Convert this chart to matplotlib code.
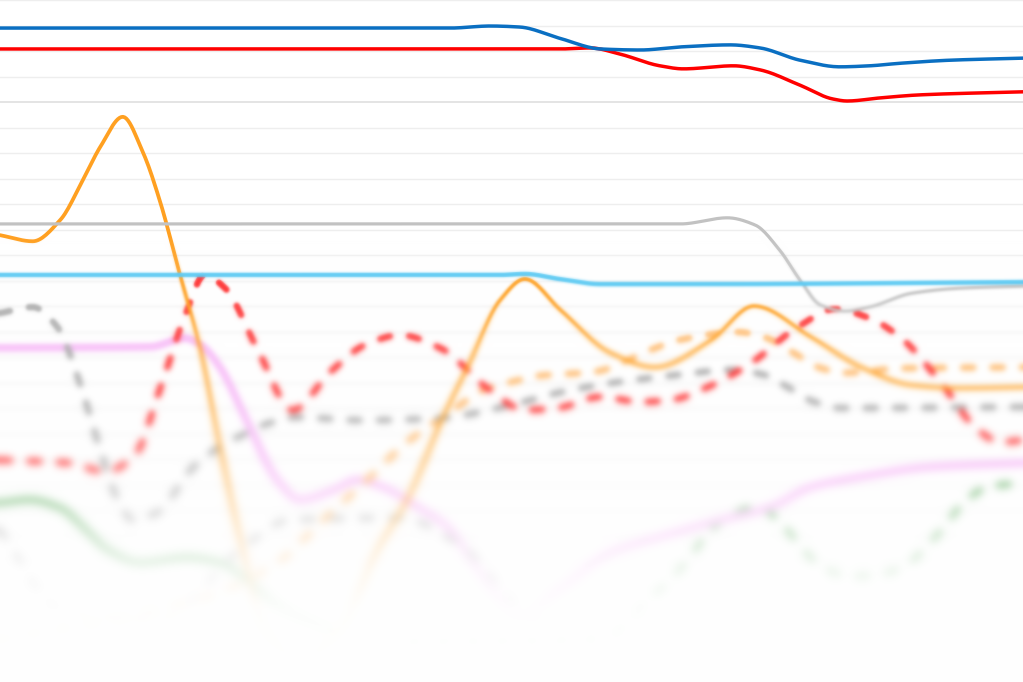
import numpy as np
import matplotlib
matplotlib.use("Agg")
import matplotlib.pyplot as plt

# values: x runs 0..100, y uses the grid scale (step 5, bold line at 100)
blue_x = [0, 44.0, 47.9, 50.8, 54.7, 58.7, 62.6, 66.5, 71.4, 74.3, 78.2, 82.1, 85.0, 88.0, 92.9, 100]
blue_y = [114.5, 114.5, 114.9, 114.7, 112.5, 110.4, 110.2, 110.8, 111.2, 110.6, 108.2, 106.9, 107.1, 107.6, 108.2, 108.6]

red_x = [0, 54.7, 57.7, 60.6, 64.5, 66.8, 71.7, 74.3, 78.2, 81.4, 82.8, 86.0, 89.9, 100]
red_y = [110.4, 110.4, 110.6, 109.4, 107.1, 106.5, 107.1, 106.3, 103.3, 100.6, 100.2, 100.8, 101.4, 102.0]

gray_x = [0, 66.5, 71.1, 73.8, 76.2, 78.2, 80.2, 82.6, 85.0, 89.1, 93.8, 100]
gray_y = [76.1, 76.1, 77.3, 75.9, 71.0, 65.1, 60.2, 59.0, 59.8, 62.5, 63.5, 63.9]

sky_x = [0, 48.9, 51.3, 54.7, 58.7, 68.4, 100]
sky_y = [66.1, 66.1, 66.3, 65.3, 64.3, 64.3, 64.7]

orange_x = [0, 3.2, 5.9, 8.1, 9.8, 12.0, 14.0, 15.6, 17.6, 19.6, 21.5, 23.5, 25.9, 29.3,
            33.2, 36.9, 39.8, 43.3, 45.7, 48.9, 51.3, 54.8, 59.7, 64.0, 69.5, 73.7, 79.3,
            84.2, 89.1, 93.8, 100]
orange_y = [73.9, 72.7, 76.9, 84.7, 91.2, 97.1, 90.0, 80.8, 66.1, 51.4, 32.4, 14.1, -3.5, -9.4,
            -3.5, 12.2, 22.0, 38.2, 48.0, 61.2, 65.3, 59.2, 50.8, 48.0, 53.3, 60.0, 53.9,
            48.0, 44.5, 43.9, 44.1]

orange_d_x = [0, 19.6, 27.1, 31.6, 35.9, 39.8, 44.3, 47.2, 50.0, 52.6, 58.1, 63.6, 66.3,
              72.1, 74.7, 77.6, 80.0, 82.5, 88.1, 100]
orange_d_y = [-5.5, 2.4, 9.6, 18.0, 25.9, 33.3, 39.6, 43.5, 45.1, 46.3, 47.1, 51.4, 53.3,
              54.9, 53.9, 50.8, 48.0, 46.9, 47.8, 48.0]

red_d_x = [0, 6.8, 10.3, 13.2, 15.6, 18.1, 20.0, 22.0, 25.2, 28.6, 32.3, 35.7, 39.1, 43.0,
           47.9, 51.3, 54.5, 58.7, 62.6, 65.6, 69.4, 73.4, 78.0, 81.6, 85.0, 88.1, 92.0,
           95.6, 97.8, 100]
red_d_y = [29.8, 29.2, 27.5, 30.8, 43.5, 58.2, 66.1, 63.5, 51.4, 39.6, 47.1, 52.4, 54.3, 51.8,
           43.5, 39.6, 40.0, 42.2, 41.2, 41.6, 44.3, 48.8, 55.9, 59.4, 57.6, 53.7, 44.9,
           35.7, 33.3, 33.7]

gray_d_x = [0, 3.2, 5.6, 7.8, 9.5, 11.4, 13.0, 15.3, 18.9, 21.5, 24.1, 26.4, 29.0, 35.2,
            43.0, 49.2, 54.8, 60.4, 66.3, 71.5, 74.7, 77.0, 79.6, 82.2, 100]
gray_d_y = [58.6, 59.8, 55.9, 44.9, 33.7, 22.5, 18.0, 19.4, 28.4, 32.4, 35.1, 37.1, 38.2, 37.6,
            38.0, 40.2, 43.1, 45.1, 46.5, 47.5, 46.5, 44.1, 41.2, 40.0, 40.2]

gray_d2_x = [0, 5.9, 15.6, 23.5, 28.3, 39.1, 45.0, 52.8, 100]
gray_d2_y = [16.1, 0.4, -1.6, 12.2, 18.0, 18.4, 13.1, -1.6, -5.5]

pink_x = [0, 14.7, 18.1, 19.6, 21.5, 24.1, 27.1, 29.3, 32.6, 34.9, 37.4, 40.8, 43.7, 47.2,
          50.8, 54.8, 59.7, 64.6, 69.5, 75.4, 79.3, 84.2, 90.7, 100]
pink_y = [51.8, 52.0, 53.7, 52.4, 48.0, 37.6, 25.9, 22.0, 23.9, 25.9, 24.5, 20.6, 16.7, 7.0,
          -1.0, 4.5, 11.6, 14.7, 17.5, 20.6, 24.5, 26.5, 28.4, 29.2]

green_x = [0, 2.9, 5.9, 8.1, 10.5, 13.7, 18.3, 21.5, 24.1, 26.9, 32.3]
green_y = [21.4, 22.0, 20.4, 16.7, 12.2, 9.6, 10.6, 9.6, 6.3, 1.4, -3.5]

green_d_x = [40.0, 58.7, 63.5, 67.3, 69.2, 71.5, 74.1, 76.3, 78.3, 80.3, 83.2, 85.8, 88.4,
             90.3, 92.3, 94.2, 96.6, 100]
green_d_y = [-6.0, -5.5, 2.4, 10.2, 15.5, 19.0, 20.6, 17.5, 12.7, 8.8, 6.9, 7.3, 8.8,
             12.2, 16.7, 21.4, 24.5, 25.3]


def smooth(x, y, n=600):
    # monotone cubic through the read points
    x = np.asarray(x, float)
    y = np.asarray(y, float)
    h = np.diff(x)
    d = np.diff(y) / h
    m = np.zeros_like(y)
    m[0], m[-1] = d[0], d[-1]
    for k in range(1, len(y) - 1):
        if d[k - 1] * d[k] > 0:
            w1 = 2 * h[k] + h[k - 1]
            w2 = h[k] + 2 * h[k - 1]
            m[k] = (w1 + w2) / (w1 / d[k - 1] + w2 / d[k])
    xs = np.linspace(x[0], x[-1], n)
    i = np.clip(np.searchsorted(x, xs, side="right") - 1, 0, len(x) - 2)
    t = (xs - x[i]) / h[i]
    h00 = 2 * t**3 - 3 * t**2 + 1
    h10 = t**3 - 2 * t**2 + t
    h01 = -2 * t**3 + 3 * t**2
    h11 = t**3 - t**2
    ys = h00 * y[i] + h10 * h[i] * m[i] + h01 * y[i + 1] + h11 * h[i] * m[i + 1]
    return xs, ys


def blur(img, sigma):
    if sigma <= 0:
        return img
    r = int(3 * sigma + 1)
    k = np.exp(-0.5 * (np.arange(-r, r + 1) / sigma) ** 2)
    k /= k.sum()
    H, W = img.shape[:2]
    p = np.pad(img, ((r, r), (0, 0), (0, 0)), mode="edge")
    out = sum(k[j] * p[j:j + H] for j in range(2 * r + 1))
    p = np.pad(out, ((0, 0), (r, r), (0, 0)), mode="edge")
    return sum(k[j] * p[:, j:j + W] for j in range(2 * r + 1))


fig = plt.figure(figsize=(10.23, 6.82), dpi=100)
ax = fig.add_axes([0, 0, 1, 1])
ax.set_xlim(0, 100)
ax.set_ylim(-13.7, 120)
ax.axis("off")

for g in np.arange(-10, 121, 5):
    if g == 100:
        ax.axhline(g, color="#dcdcdc", lw=1.1, zorder=0)
    else:
        ax.axhline(g, color="#eeeeee", lw=1.0, zorder=0)

dash = (1.6, 3.0)
series = [
    (green_x, green_y, "#86c286", 5.5, None),
    (green_d_x, green_d_y, "#74b874", 4.6, dash),
    (pink_x, pink_y, "#f8c0f8", 5.5, None),
    (gray_d2_x, gray_d2_y, "#c0c0c0", 4.6, dash),
    (orange_d_x, orange_d_y, "#ffc07a", 4.6, dash),
    (gray_d_x, gray_d_y, "#b0b0b0", 4.6, dash),
    (red_d_x, red_d_y, "#ff3c3c", 4.6, dash),
    (orange_x, orange_y, "#ffa021", 2.7, None),
    (gray_x, gray_y, "#c2c2c2", 2.3, None),
    (sky_x, sky_y, "#5ccaf3", 3.2, None),
    (red_x, red_y, "#ff0000", 2.5, None),
    (blue_x, blue_y, "#0a6fc2", 2.5, None),
]
for xs, ys, col, lw, ds in series:
    sx, sy = smooth(xs, ys)
    line, = ax.plot(sx, sy, color=col, lw=lw, solid_capstyle="round",
                    dash_capstyle="round")
    if ds is not None:
        line.set_dashes(ds)

fig.canvas.draw()
img = np.asarray(fig.canvas.buffer_rgba())[..., :3].astype(float) / 255.0
plt.close(fig)

# blur grows and the picture fades to white towards the bottom
H = img.shape[0]
rows = np.arange(H)
sigmas = [0, 1.3, 2.7, 4.0, 6.0]
levels = [blur(img, s) for s in sigmas]
row_sigma = np.interp(rows, [0, 235, 290, 350, 410, 520, 682], [0, 0, 1.3, 2.6, 3.4, 4.8, 6.0])
pos = np.interp(row_sigma, sigmas, np.arange(len(sigmas)))
lo = np.floor(pos).astype(int)
hi = np.minimum(lo + 1, len(sigmas) - 1)
fr = (pos - lo)[:, None, None]
stack = np.stack(levels)
out = stack[lo, rows] * (1 - fr) + stack[hi, rows] * fr

fade = np.interp(rows, [0, 400, 460, 520, 570, 610, 682], [0, 0, 0.12, 0.45, 0.8, 0.96, 1.0])
out = out * (1 - fade[:, None, None]) + fade[:, None, None]
out = np.clip(out, 0, 1)

plt.imsave("out.png", out)
